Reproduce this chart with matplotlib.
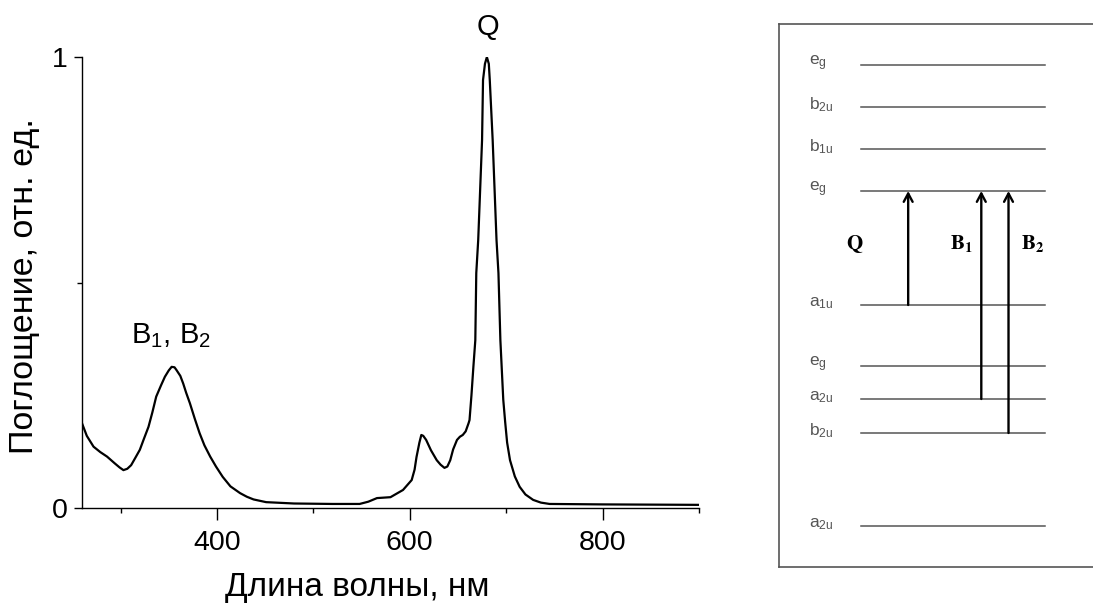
import matplotlib
matplotlib.use("Agg")
import matplotlib.pyplot as plt

plt.rcParams['font.family'] = ['Liberation Sans', 'DejaVu Sans']
plt.rcParams['mathtext.fontset'] = 'custom'
plt.rcParams['mathtext.rm'] = 'Liberation Sans'
plt.rcParams['mathtext.it'] = 'Liberation Sans'

# спектр поглощения (длина волны, нм / поглощение, отн. ед.)
wavelength = [260, 265, 272, 279, 286, 294, 299, 303, 307, 311, 315, 320, 324, 329, 333,
              337, 342, 346, 350, 353, 356, 358, 362, 365, 368, 372, 377, 382, 387, 393,
              399, 406, 414, 424, 431, 438, 451, 480, 520, 548, 557, 566, 580, 593, 602,
              605, 607, 610, 612, 614, 617, 622, 628, 632, 636, 639, 642, 645, 649, 652,
              655, 658, 661, 662, 664, 666, 668, 669, 671, 673, 675, 676, 678, 680, 682,
              683, 686, 688, 690, 692, 694, 697, 699, 701, 704, 709, 714, 720, 728, 736,
              745, 800, 900]
absorbance = [0.188, 0.160, 0.136, 0.124, 0.114, 0.099, 0.090, 0.084, 0.087, 0.095,
              0.110, 0.129, 0.152, 0.180, 0.212, 0.247, 0.272, 0.291, 0.305, 0.313,
              0.312, 0.306, 0.293, 0.276, 0.256, 0.232, 0.198, 0.166, 0.139, 0.114,
              0.092, 0.069, 0.048, 0.033, 0.025, 0.019, 0.013, 0.010, 0.009, 0.009,
              0.014, 0.022, 0.024, 0.040, 0.062, 0.085, 0.113, 0.145, 0.162, 0.160,
              0.151, 0.128, 0.106, 0.096, 0.089, 0.092, 0.106, 0.130, 0.151, 0.158,
              0.162, 0.170, 0.188, 0.195, 0.250, 0.313, 0.372, 0.521, 0.594, 0.705,
              0.816, 0.949, 0.985, 1.000, 0.985, 0.949, 0.816, 0.705, 0.594, 0.521,
              0.372, 0.240, 0.190, 0.145, 0.106, 0.070, 0.047, 0.030, 0.018, 0.012,
              0.009, 0.008, 0.007]

# энергетические уровни (условные единицы)
level_names = ['e$_g$', 'b$_{2u}$', 'b$_{1u}$', 'e$_g$', 'a$_{1u}$', 'e$_g$', 'a$_{2u}$',
               'b$_{2u}$', 'a$_{2u}$']
level_energy = [502, 460, 418, 376, 262, 201, 168, 134, 41]

# переходы: (подпись, нижний уровень, верхний уровень)
trans_names = [r'$\mathbf{Q}$', r'$\mathbf{B_1}$', r'$\mathbf{B_2}$']
trans_from = [4, 6, 7]
trans_to = [3, 3, 3]

fig = plt.figure(figsize=(10.93, 6.06), dpi=100)

# --- спектр ---
ax = fig.add_axes([0.075, 0.1617, 0.5645, 0.7442])
ax.plot(wavelength, absorbance, color='black', lw=1.6)
ax.set_xlim(260, 900)
ax.set_ylim(0, 1)
for s in ['top', 'right']:
    ax.spines[s].set_visible(False)
for s in ['left', 'bottom']:
    ax.spines[s].set_linewidth(1.0)
ax.set_xticks([400, 600, 800])
ax.set_xticks([300, 500, 700, 900], minor=True)
ax.set_yticks([0, 1])
ax.set_yticklabels(['0', '1'])
ax.set_yticks([0.5], minor=True)
ax.tick_params(axis='x', which='major', length=8.5, width=1.0, labelsize=20.5, pad=7)
ax.tick_params(axis='x', which='minor', length=3.8, width=1.0)
ax.tick_params(axis='y', which='major', length=6, width=1.0, labelsize=20.5, pad=4)
ax.tick_params(axis='y', which='minor', length=3.8, width=1.0)
ax.text(352, 0.35, 'B$_1$, B$_2$', fontsize=21, ha='center', va='bottom')
ax.text(681, 1.035, 'Q', fontsize=21, ha='center', va='bottom')
fig.text(0.327, 0.016, 'Длина волны, нм', fontsize=24, ha='center', va='baseline')
fig.text(0.008, 0.528, 'Поглощение, отн. ед.', fontsize=24.5, rotation=90,
         ha='left', va='center')

# --- схема уровней ---
ax2 = fig.add_axes([0.7127, 0.0644, 0.30, 0.896])
ax2.set_xlim(0, 1)
ax2.set_ylim(0, 543)
ax2.set_xticks([])
ax2.set_yticks([])
ax2.spines['right'].set_visible(False)
for s in ['left', 'top', 'bottom']:
    ax2.spines[s].set_color('#555555')
    ax2.spines[s].set_linewidth(1.2)

x0, x1 = 0.25, 0.81
for name, e in zip(level_names, level_energy):
    ax2.plot([x0, x1], [e, e], color='#555555', lw=1.1)
    ax2.text(0.092, e + 2, name, fontsize=12.5, color='#555555', ha='left', va='center')

arrow_x = [0.394, 0.617, 0.70]
label_x = [0.232, 0.555, 0.775]
for name, i, j, xa, xl in zip(trans_names, trans_from, trans_to, arrow_x, label_x):
    ax2.annotate('', xy=(xa, level_energy[j]), xytext=(xa, level_energy[i]),
                 arrowprops=dict(arrowstyle='->,head_length=0.6,head_width=0.32',
                                 lw=1.7, color='black', shrinkA=0, shrinkB=0))
    ax2.text(xl, 323, name, fontsize=15, ha='center', va='center',
             math_fontfamily='stix')

fig.savefig('out.png', dpi=100)
